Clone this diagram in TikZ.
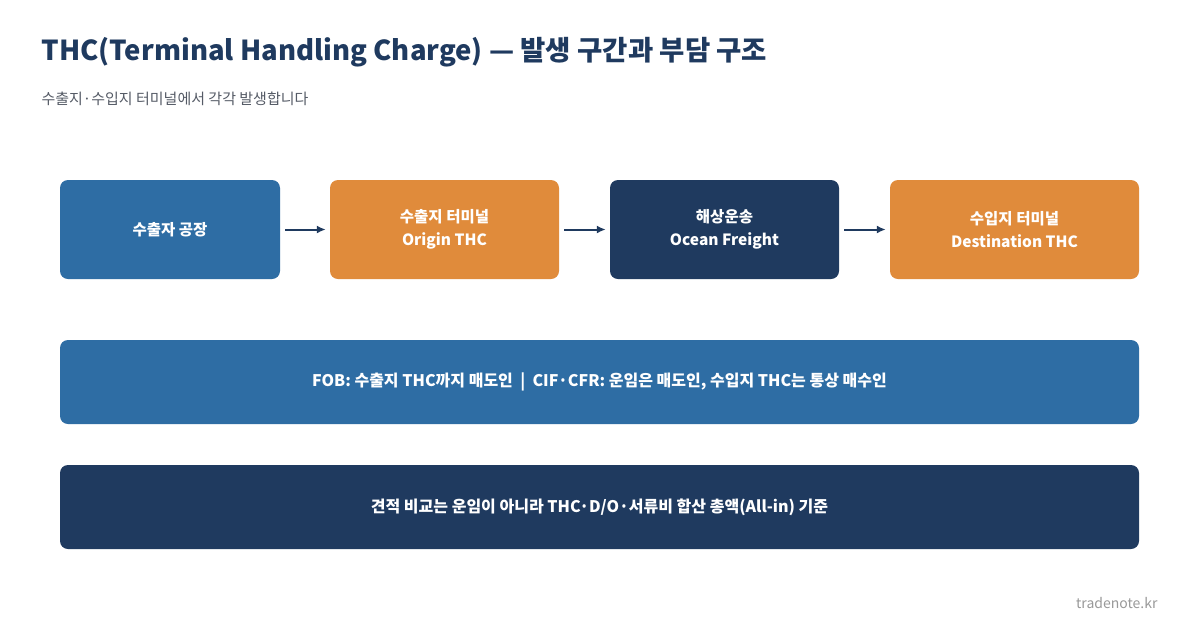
\documentclass[tikz,border=0pt]{standalone}
\usepackage{fontspec}
\setmainfont{Noto Sans CJK KR}
\usetikzlibrary{arrows.meta}
\definecolor{cblue}{HTML}{2E6DA4}
\definecolor{corange}{HTML}{E08B3B}
\definecolor{cnavy}{HTML}{1F3A5F}
\definecolor{cgray}{HTML}{555B66}
\begin{document}
\begin{tikzpicture}[x=1pt,y=-1pt,
 box/.style={rounded corners=8pt,inner sep=0pt,text=white,align=center,font=\fontsize{15.5}{23}\selectfont\bfseries},
 bar/.style={box,font=\fontsize{16}{23}\selectfont\bfseries},
 arr/.style={-{Latex[length=9pt,width=8pt]},line width=2pt,cnavy}]
\fill[white] (0,0) rectangle (1200,630);
\useasboundingbox (0,0) rectangle (1200,630);
\node[anchor=west,text=cnavy,font=\fontsize{27.5}{32}\selectfont\bfseries] (title) at (38,52) {THC(Terminal Handling Charge) — 발생 구간과 부담 구조};
\node[anchor=west,text=cgray,font=\fontsize{15}{18}\selectfont] (sub) at (38,99) {수출지·수입지 터미널에서 각각 발생합니다};
\node[box,fill=cblue,minimum width=220pt,minimum height=99pt] (a) at (170,229.5) {수출자 공장};
\node[box,fill=corange,minimum width=229pt,minimum height=99pt] (b) at (444.5,229.5) {수출지 터미널\\Origin THC};
\node[box,fill=cnavy,minimum width=229pt,minimum height=99pt] (c) at (724.5,229.5) {해상운송\\Ocean Freight};
\node[box,fill=corange,minimum width=249pt,minimum height=99pt] (d) at (1014.5,229.5) {수입지 터미널\\Destination THC};
\draw[arr] ([xshift=5pt]a.east) -- ([xshift=-4pt]b.west);
\draw[arr] ([xshift=5pt]b.east) -- ([xshift=-4pt]c.west);
\draw[arr] ([xshift=5pt]c.east) -- ([xshift=-4pt]d.west);
\node[bar,fill=cblue,minimum width=1079pt,minimum height=84pt] (e) at (599.5,382) {FOB: 수출지 THC까지 매도인 \ | \ CIF·CFR: 운임은 매도인, 수입지 THC는 통상 매수인};
\node[bar,fill=cnavy,minimum width=1079pt,minimum height=84pt] (f) at (599.5,507) {견적 비교는 운임이 아니라 THC·D/O·서류비 합산 총액(All-in) 기준};
\node[anchor=east,text=gray!80,font=\fontsize{14}{18}\selectfont] (w) at (1161,603) {tradenote.kr};
\end{tikzpicture}
\end{document}
